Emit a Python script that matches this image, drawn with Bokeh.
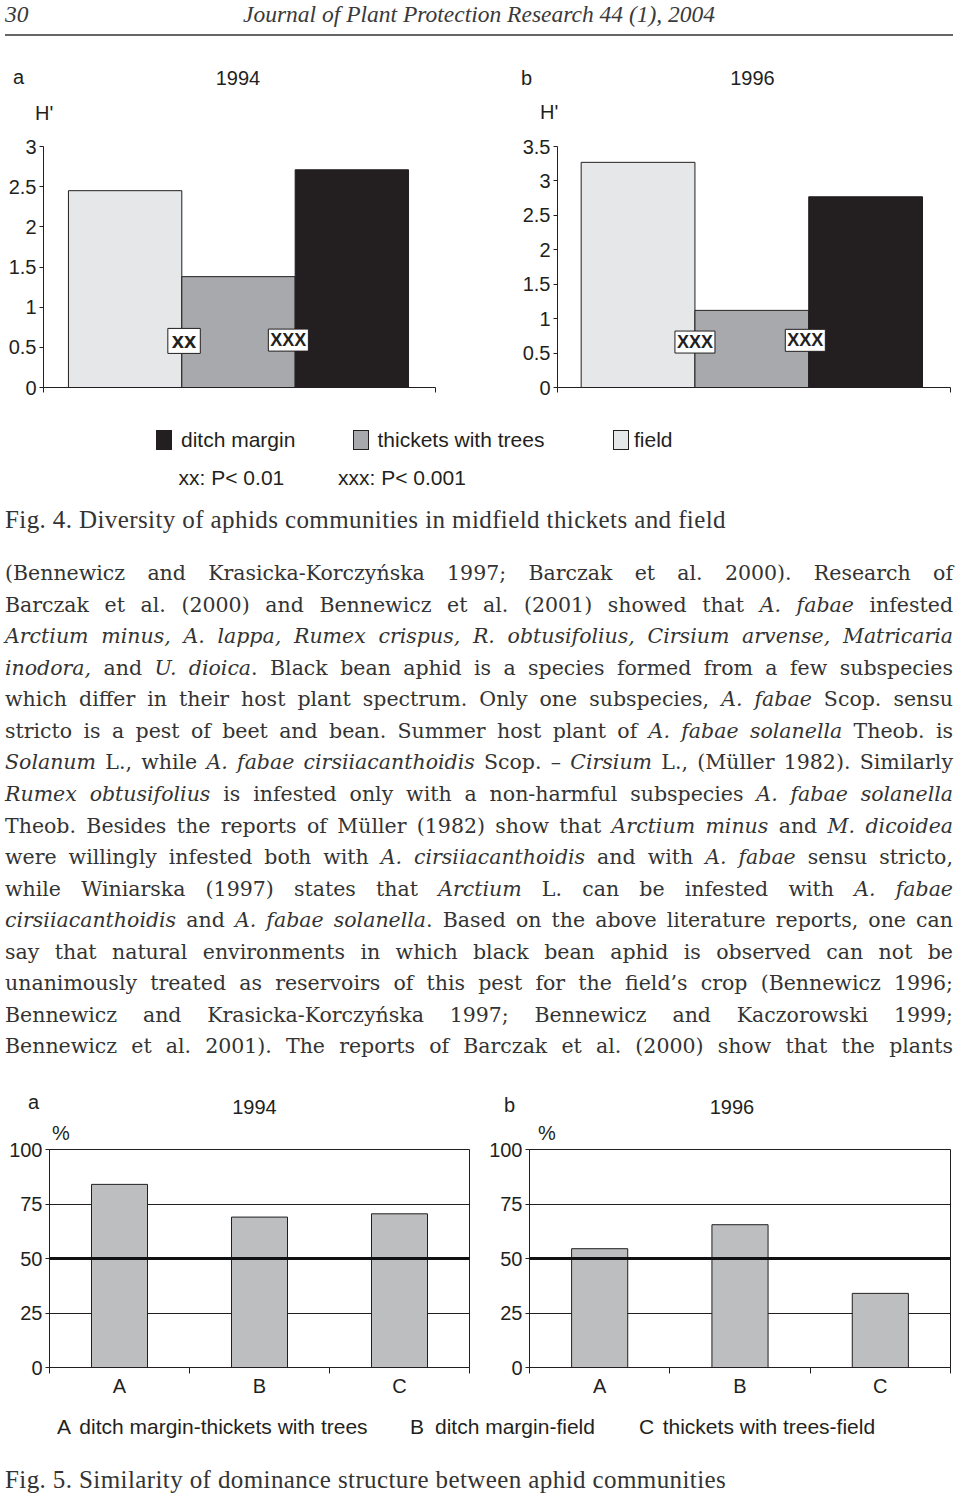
from bokeh.plotting import figure
from bokeh.models import (Range1d, FixedTicker, Label, Span, Div, ColumnDataSource,
                          NumeralTickFormatter)
from bokeh.layouts import column, row
from bokeh.embed import file_html
from bokeh.resources import INLINE

# ---------------- data ----------------
habitats = ["field", "thickets with trees", "ditch margin"]
habitat_colors = ["#e6e7e8", "#a7a9ac", "#231f20"]
diversity_1994 = [2.45, 1.38, 2.71]
diversity_1996 = [3.27, 1.12, 2.77]
diversity_ticks_1994 = [0, 0.5, 1, 1.5, 2, 2.5, 3]
diversity_ticks_1996 = [0, 0.5, 1, 1.5, 2, 2.5, 3, 3.5]
signif_1994 = ["xx", "XXX"]
signif_1996 = ["XXX", "XXX"]

pairs = ["A", "B", "C"]
pair_names = ["ditch margin-thickets with trees", "ditch margin-field",
              "thickets with trees-field"]
similarity_1994 = [84, 69, 70.5]
similarity_1996 = [54.5, 65.5, 34]
similarity_ticks = [0, 25, 50, 75, 100]
threshold = 50

SANS = "Liberation Sans"
INK = "#231f20"
CSS_SANS = "'Liberation Sans', Arial, sans-serif"
CSS_SERIF = "'Liberation Serif', 'Times New Roman', serif"
CSS_BODY = "'DejaVu Serif', serif"


# ---------------- figure builders ----------------
def diversity_fig(values, ticks, width, x_start, x_end, mb_left, mb_right, sigs, sig_pos):
    p = figure(width=width, height=280, x_range=Range1d(x_start, x_end),
               y_range=Range1d(0, ticks[-1]), output_backend="svg", toolbar_location=None,
               min_border_left=mb_left, min_border_right=mb_right,
               min_border_top=16, min_border_bottom=23)
    xs = [i + 0.5 for i in range(len(values))]
    src = ColumnDataSource(dict(x=xs, top=values, color=habitat_colors, habitat=habitats))
    p.vbar(x="x", top="top", bottom=0, width=1.0, fill_color="color",
           line_color=INK, line_width=1, source=src)
    p.xgrid.visible = False
    p.ygrid.visible = False
    p.outline_line_color = None
    ya = p.yaxis[0]
    ya.ticker = FixedTicker(ticks=ticks)
    ya.formatter = NumeralTickFormatter(format="0.[0]")
    ya.major_tick_out = 4
    ya.major_tick_in = 0
    ya.minor_tick_line_color = None
    ya.axis_line_color = INK
    ya.major_tick_line_color = INK
    ya.major_label_text_font = SANS
    ya.major_label_text_font_size = "20px"
    ya.major_label_text_color = INK
    ya.major_label_standoff = 3
    xa = p.xaxis[0]
    # only the category-boundary tick marks at both ends, no labels
    xa.ticker = FixedTicker(ticks=[], minor_ticks=[x_start, x_end])
    xa.minor_tick_out = 5
    xa.minor_tick_in = 0
    xa.minor_tick_line_color = INK
    xa.axis_line_color = INK
    for (sx, sy, fs, pad), s in zip(sig_pos, sigs):
        p.add_layout(Label(x=sx, y=sy, text=s, text_font=SANS, text_font_size=fs,
                           text_font_style="bold", text_color=INK, text_align="center",
                           text_baseline="middle", background_fill_color="white",
                           border_line_color=INK, border_line_width=1, padding=pad))
    return p


def similarity_fig(values, width, mb_left, mb_right, mb_top, mb_bottom):
    n = len(pairs)
    p = figure(width=width, height=260, x_range=Range1d(0, n),
               y_range=Range1d(0, similarity_ticks[-1]), output_backend="svg",
               toolbar_location=None, min_border_left=mb_left, min_border_right=mb_right,
               min_border_top=mb_top, min_border_bottom=mb_bottom)
    xs = [i + 0.5 for i in range(n)]
    src = ColumnDataSource(dict(x=xs, top=values, pair=pairs))
    p.vbar(x="x", top="top", bottom=0, width=0.4, fill_color="#bcbec0",
           line_color=INK, line_width=1, source=src)
    p.xgrid.visible = False
    p.ygrid.grid_line_color = INK
    p.ygrid.grid_line_width = 1
    p.outline_line_color = INK
    p.add_layout(Span(location=threshold, dimension="width", line_color="#111111",
                      line_width=3))
    ya = p.yaxis[0]
    ya.ticker = FixedTicker(ticks=similarity_ticks)
    ya.formatter = NumeralTickFormatter(format="0")
    ya.major_tick_out = 4
    ya.major_tick_in = 0
    ya.minor_tick_line_color = None
    ya.axis_line_color = INK
    ya.major_tick_line_color = INK
    ya.major_label_text_font = SANS
    ya.major_label_text_font_size = "20px"
    ya.major_label_text_color = INK
    ya.major_label_standoff = 3
    xa = p.xaxis[0]
    xa.ticker = FixedTicker(ticks=xs, minor_ticks=list(range(n + 1)))
    xa.major_label_overrides = {x: lab for x, lab in zip(xs, pairs)}
    xa.major_tick_out = 0
    xa.major_tick_in = 0
    xa.minor_tick_out = 6
    xa.minor_tick_in = 0
    xa.minor_tick_line_color = INK
    xa.axis_line_color = INK
    xa.major_label_text_font = SANS
    xa.major_label_text_font_size = "20px"
    xa.major_label_text_color = INK
    xa.major_label_standoff = 1
    return p


# ---------------- text helpers (HTML) ----------------
def put(x, yc, s, size, family, top0, align="left", dy=0.0, extra=""):
    h = round(size * 1.5)
    top = yc - top0 - h / 2 - dy
    tr = "transform:translateX(-50%);" if align == "center" else ""
    return (f'<div style="position:absolute;left:{x:.1f}px;top:{top:.1f}px;height:{h}px;'
            f'line-height:{h}px;white-space:nowrap;font-family:{family};font-size:{size}px;'
            f'{tr}{extra}">{s}</div>')


def box(x, y, w, h, color, top0):
    return (f'<div style="position:absolute;left:{x}px;top:{y - top0}px;width:{w}px;'
            f'height:{h}px;background:{color};border:1px solid {INK};box-sizing:border-box">'
            f'</div>')


def make_div(inner, height):
    html = (f'<div style="position:relative;width:960px;height:{height}px;'
            f'color:{INK}">{inner}</div>')
    return Div(text=html, width=960, height=height, margin=0,
               styles={"overflow": "visible"})


# ---- Div A: page header and Fig. 4 panel titles (y 0..130)
T = 0
a_parts = [
    put(5, 14, "<i>30</i>", 23.5, CSS_SERIF, T, extra="color:#3a3a3a"),
    put(243, 14, "<i>Journal of Plant Protection Research 44 (1), 2004</i>", 23.5, CSS_SERIF, T,
        extra="color:#3a3a3a"),
    f'<div style="position:absolute;left:5px;top:34px;width:948px;height:2px;'
    f'background:#666"></div>',
    put(13, 78.8, "a", 20, CSS_SANS, T, dy=1.7),
    put(238, 78, "1994", 20, CSS_SANS, T, align="center"),
    put(35, 112.7, "H'", 20, CSS_SANS, T),
    put(521, 77.5, "b", 20, CSS_SANS, T),
    put(752.5, 78, "1996", 20, CSS_SANS, T, align="center"),
    put(540, 112, "H'", 20, CSS_SANS, T),
]
div_a = make_div("".join(a_parts), 130)

# ---- Fig. 4 charts (y 130..410)
fig4a = diversity_fig(diversity_1994, diversity_ticks_1994, 480, -0.22, 3.238, 43, 45,
                      signif_1994, [(1.02, 0.58, "22px", (4, 0)), (1.94, 0.59, "18px", (2, 1))])
fig4b = diversity_fig(diversity_1996, diversity_ticks_1996, 480, -0.208, 3.246, 77, 10,
                      signif_1996, [(1.0, 0.66, "18px", (2, 1)), (1.97, 0.685, "18px", (2, 1))])

# ---- Div B: legend, caption 4, body text, Fig. 5 titles (y 410..1140)
T = 410
legend_x = [(156, 181), (353, 377.5), (613, 634)]
b_parts = []
for (bx, tx), lab in zip(legend_x, habitats[::-1]):
    col = habitat_colors[habitats.index(lab)]
    b_parts.append(box(bx, 430, 16, 20, col, T))
    b_parts.append(put(tx, 439.5, lab, 21, CSS_SANS, T))
b_parts.append(put(178.6, 478, "xx: P&lt; 0.01", 21, CSS_SANS, T))
b_parts.append(put(338, 478, "xxx: P&lt; 0.001", 21, CSS_SANS, T))
b_parts.append(put(5, 520, "Fig. 4. Diversity of aphids communities in midfield thickets and field",
                   25, CSS_SERIF, T, extra="letter-spacing:0.4px;color:#333"))

body_lines = [
    "(Bennewicz and Krasicka-Korczyńska 1997; Barczak et al. 2000). Research of",
    "Barczak et al. (2000) and Bennewicz et al. (2001) showed that <i>A. fabae</i> infested",
    "<i>Arctium minus, A. lappa, Rumex crispus, R. obtusifolius, Cirsium arvense, Matricaria</i>",
    "<i>inodora,</i> and <i>U. dioica</i>. Black bean aphid is a species formed from a few subspecies",
    "which differ in their host plant spectrum. Only one subspecies, <i>A. fabae</i> Scop. sensu",
    "stricto is a pest of beet and bean. Summer host plant of <i>A. fabae solanella</i> Theob. is",
    "<i>Solanum</i> L., while <i>A. fabae cirsiiacanthoidis</i> Scop. – <i>Cirsium</i> L., (Müller 1982). Similarly",
    "<i>Rumex obtusifolius</i> is infested only with a non-harmful subspecies <i>A. fabae solanella</i>",
    "Theob. Besides the reports of Müller (1982) show that <i>Arctium minus</i> and <i>M. dicoidea</i>",
    "were willingly infested both with <i>A. cirsiiacanthoidis</i> and with <i>A. fabae</i> sensu stricto,",
    "while Winiarska (1997) states that <i>Arctium</i> L. can be infested with <i>A. fabae</i>",
    "<i>cirsiiacanthoidis</i> and <i>A. fabae solanella</i>. Based on the above literature reports, one can",
    "say that natural environments in which black bean aphid is observed can not be",
    "unanimously treated as reservoirs of this pest for the field’s crop (Bennewicz 1996;",
    "Bennewicz and Krasicka-Korczyńska 1997; Bennewicz and Kaczorowski 1999;",
    "Bennewicz et al. 2001). The reports of Barczak et al. (2000) show that the plants",
]
LH = 31.53
for i, line in enumerate(body_lines):
    yc = 574 + LH * i
    top = yc - T - LH / 2
    b_parts.append(
        f'<div style="position:absolute;left:5px;top:{top:.1f}px;width:948px;height:{LH}px;'
        f'line-height:{LH}px;font-family:{CSS_BODY};font-size:20.5px;color:#333;'
        f'text-align:justify;text-align-last:justify">{line}</div>')

b_parts += [
    put(28, 1103.3, "a", 20, CSS_SANS, T, dy=1.7),
    put(254.5, 1107, "1994", 20, CSS_SANS, T, align="center"),
    put(61, 1132.7, "%", 20, CSS_SANS, T, align="center"),
    put(504, 1104.7, "b", 20, CSS_SANS, T),
    put(732, 1107, "1996", 20, CSS_SANS, T, align="center"),
    put(547, 1133, "%", 20, CSS_SANS, T, align="center"),
]
div_b = make_div("".join(b_parts), 730)

# ---- Fig. 5 charts (y 1140..1400)
fig5a = similarity_fig(similarity_1994, 480, 49, 11, 8, 33)
fig5b = similarity_fig(similarity_1996, 480, 49, 10, 9, 33)

# ---- Div C: legend 5 and caption 5 (y 1400..1496)
T = 1400
legend5 = [(57, 79.3), (410, 435), (639, 662.7)]
c_parts = []
for (lx, tx), key, name in zip(legend5, pairs, pair_names):
    c_parts.append(put(lx, 1426.7, key, 21, CSS_SANS, T))
    c_parts.append(put(tx, 1426.7, name, 21, CSS_SANS, T))
c_parts.append(put(5, 1480, "Fig. 5. Similarity of dominance structure between aphid communities",
                   25, CSS_SERIF, T, extra="letter-spacing:0.4px;color:#333"))
div_c = make_div("".join(c_parts), 96)

layout = column(div_a, row(fig4a, fig4b), div_b, row(fig5a, fig5b), div_c)

with open("out.html", "w") as f:
    f.write(file_html(layout, INLINE, title="Fig. 4 and Fig. 5"))
